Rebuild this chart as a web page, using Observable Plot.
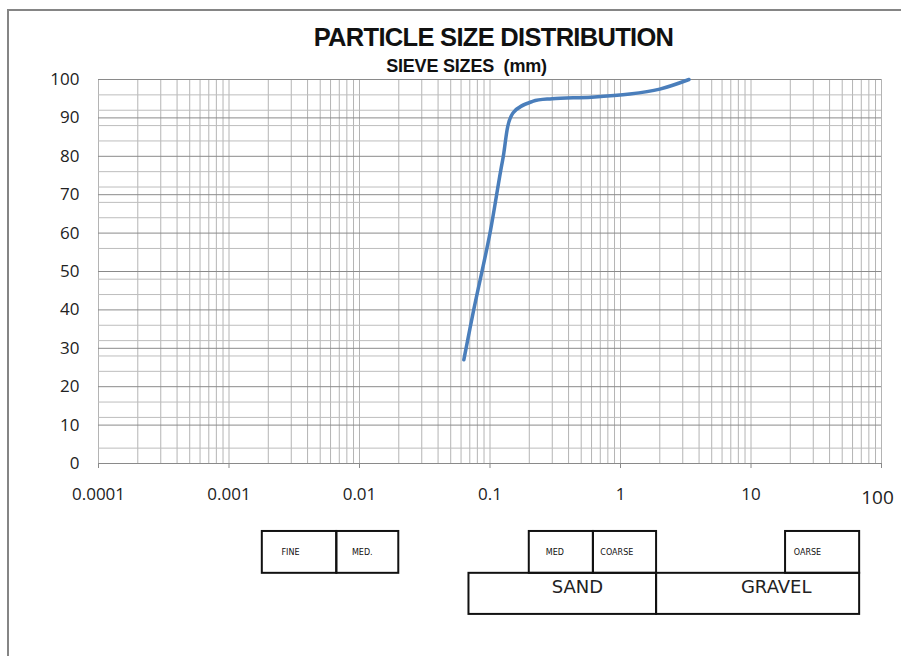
<!DOCTYPE html>
<html>
<head>
<meta charset="utf-8">
<script src="https://cdn.jsdelivr.net/npm/d3@7"></script>
<script src="https://cdn.jsdelivr.net/npm/@observablehq/plot@0.6"></script>
<style>
  html, body { margin: 0; padding: 0; background: #fff; width: 901px; height: 656px; overflow: hidden; }
  #frame { position: absolute; left: 7px; top: 9px; width: 1000px; height: 1000px;
           border-top: 2px solid #858585; border-left: 2px solid #858585; box-sizing: border-box; }
  #title { position: absolute; left: 0; width: 987px; top: 25px; text-align: center;
           font-family: "Liberation Sans", Arial, sans-serif; font-weight: bold; font-size: 25.5px;
           line-height: 1; letter-spacing: -0.7px; color: #111; z-index: 2; }
  #subtitle { position: absolute; left: 0; width: 933px; top: 56.5px; text-align: center; white-space: pre;
           font-family: "Liberation Sans", Arial, sans-serif; font-weight: bold; font-size: 18px;
           line-height: 1; letter-spacing: -0.2px; color: #111; z-index: 2; }
  #chart { position: absolute; left: 0; top: 0; }
</style>
</head>
<body>
<div id="frame"></div>
<div id="chart"></div>
<div id="title">PARTICLE SIZE DISTRIBUTION</div>
<div id="subtitle">SIEVE SIZES  (mm)</div>
<script>
// ---- data ----
const sieveSizes = [0.063, 0.075, 0.1, 0.125, 0.15, 0.212, 0.3, 0.6, 1.18, 2, 3.35];
const percentPassing = [27, 40, 60, 79, 91.3, 94.3, 95, 95.4, 96.2, 97.5, 100];

const xTickValues = [0.0001, 0.001, 0.01, 0.1, 1, 10];
const xTickLabels = ["0.0001", "0.001", "0.01", "0.1", "1", "10"];
const xEndValue = 100;
const xEndLabel = "100";

const yTickValues = [0, 10, 20, 30, 40, 50, 60, 70, 80, 90, 100];
const yMinorLines = [96, 92, 88, 84, 76, 72, 68, 64, 56, 48, 44, 36, 32, 28, 24, 16, 12, 4];

// soil classification boxes (particle size ranges, mm)
const boxNames = ["FINE", "MED.", "MED", "COARSE", "OARSE", "SAND", "GRAVEL"];
const boxFrom  = [0.0018, 0.0067, 0.2, 0.62, 18.4, 0.069, 1.89];
const boxTo    = [0.0067, 0.02, 0.62, 1.89, 68, 1.89, 68];
const boxLabelAt = [0.00296, 0.0105, 0.314, 0.937, 27.1, 0.468, 15.6];
const boxRow   = [1, 1, 1, 1, 1, 2, 2];

// ---- build ----
const curve = sieveSizes.map((s, i) => ({size: s, pass: percentPassing[i]}));
const boxes = boxNames.map((name, i) => ({name, from: boxFrom[i], to: boxTo[i], at: boxLabelAt[i], row: boxRow[i]}));
const labelOf = new Map(xTickValues.map((d, i) => [d, xTickLabels[i]]));
const xGrid = d3.scaleLog().domain([xTickValues[0], xEndValue]).ticks();

const rowTop = {1: -17.7, 2: -28.6};
const rowBottom = {1: -28.6, 2: -39.3};
const rowText = {1: -23.2, 2: -32.3};

const chart = Plot.plot({
  width: 901,
  height: 656,
  marginTop: 79,
  marginBottom: 193,
  marginLeft: 98,
  marginRight: 20,
  style: {fontFamily: "'Open Sans', sans-serif", fontSize: "17px", background: "transparent", overflow: "visible"},
  x: {type: "log", domain: [xTickValues[0], xEndValue]},
  y: {domain: [0, 100]},
  marks: [
    Plot.ruleX(xGrid, {stroke: "#b4b4b4", strokeWidth: 1}),
    Plot.ruleY(yMinorLines, {stroke: "#bdbdbd", strokeWidth: 1}),
    Plot.ruleY(yTickValues, {stroke: "#8a8a8a", strokeWidth: 1}),
    Plot.ruleX(xTickValues.concat([xEndValue]), {y1: 0, y2: -1.3, stroke: "#8a8a8a"}),
    Plot.axisY(yTickValues, {tickSize: 0, tickPadding: 19, fontSize: 17, fontFamily: "'Open Sans', sans-serif", fill: "#222", label: null}),
    Plot.axisX(xTickValues, {tickSize: 0, tickPadding: 24, fontSize: 17, fontFamily: "'Open Sans', sans-serif", fill: "#222", label: null, tickFormat: d => labelOf.get(d)}),
    Plot.text([xEndValue], {x: d => d, y: () => 0, text: () => xEndLabel, dy: 34, dx: -4, fontSize: 19, fontFamily: "'Open Sans', sans-serif", fill: "#222"}),
    Plot.line(curve, {x: "size", y: "pass", stroke: "#4a7ebb", strokeWidth: 3.5, curve: "catmull-rom", strokeLinecap: "round"}),
    Plot.rect(boxes, {x1: "from", x2: "to", y1: d => rowTop[d.row], y2: d => rowBottom[d.row], fill: "none", stroke: "#111", strokeWidth: 2}),
    Plot.text(boxes.filter(d => d.row === 1), {x: "at", y: d => rowText[d.row], text: "name", fontSize: 8, fontFamily: "'DejaVu Sans', sans-serif", fill: "#111", ariaLabel: "small-labels"}),
    Plot.text(boxes.filter(d => d.row === 2), {x: "at", y: d => rowText[d.row], text: "name", fontSize: 18, fontFamily: "'DejaVu Sans', sans-serif", fill: "#222", ariaLabel: "big-labels"})
  ]
});
document.getElementById("chart").appendChild(chart);
chart.querySelectorAll('g[aria-label="small-labels"] text').forEach(t => t.style.letterSpacing = "1.4px");
</script>
</body>
</html>
